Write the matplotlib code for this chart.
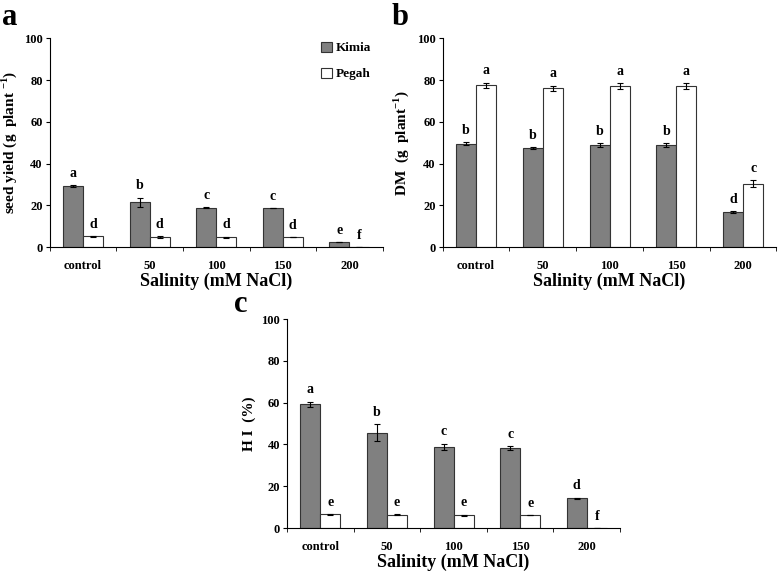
import matplotlib
matplotlib.use("Agg")
import matplotlib.pyplot as plt
import numpy as np

plt.rcParams['font.family'] = ['Liberation Serif']
plt.rcParams['font.weight'] = 'bold'
plt.rcParams['mathtext.fontset'] = 'custom'
plt.rcParams['mathtext.rm'] = 'Liberation Serif:bold'
plt.rcParams['mathtext.bf'] = 'Liberation Serif:bold'

categories = ['control', '50', '100', '150', '200']
cultivars = ['Kimia', 'Pegah']

# panel a: seed yield
seed_kimia = [29.3, 21.5, 19.0, 18.8, 2.5]
seed_kimia_err = [0.3, 2.3, 0.2, 0.1, 0.1]
seed_pegah = [5.2, 4.9, 4.8, 4.8, 0.0]
seed_pegah_err = [0.2, 0.3, 0.3, 0.1, 0.0]
seed_kimia_let = ['a', 'b', 'c', 'c', 'e']
seed_pegah_let = ['d', 'd', 'd', 'd', 'f']

# panel b: dry matter
dm_kimia = [49.5, 47.3, 48.9, 48.9, 16.8]
dm_kimia_err = [0.8, 0.5, 1.0, 1.0, 0.5]
dm_pegah = [77.5, 76.0, 77.2, 77.2, 30.5]
dm_pegah_err = [1.3, 1.3, 1.5, 1.5, 1.5]
dm_kimia_let = ['b', 'b', 'b', 'b', 'd']
dm_pegah_let = ['a', 'a', 'a', 'a', 'c']

# panel c: harvest index
hi_kimia = [59.2, 45.6, 38.9, 38.3, 14.2]
hi_kimia_err = [1.3, 4.2, 1.5, 0.9, 0.3]
hi_pegah = [6.5, 6.4, 6.1, 6.1, 0.0]
hi_pegah_err = [0.2, 0.2, 0.3, 0.1, 0.0]
hi_kimia_let = ['a', 'b', 'c', 'c', 'd']
hi_pegah_let = ['e', 'e', 'e', 'e', 'f']


def panel(ax, k, ke, p, pe, kl, pl, ylabel, legend=False):
    x = np.arange(len(categories))
    w = 0.3
    ax.bar(x - w / 2, k, w, color='#808080', edgecolor='#333333', linewidth=0.8,
           yerr=ke, error_kw=dict(ecolor='black', elinewidth=0.8, capsize=2.5, capthick=0.8),
           label=cultivars[0])
    ax.bar(x + w / 2, p, w, color='white', edgecolor='#333333', linewidth=0.8,
           yerr=pe, error_kw=dict(ecolor='black', elinewidth=0.8, capsize=2.5, capthick=0.8),
           label=cultivars[1])
    for i in range(len(x)):
        ax.text(x[i] - w / 2, k[i] + ke[i] + 2.5, kl[i], ha='center', va='bottom',
                fontsize=10, fontweight='bold')
        ax.text(x[i] + w / 2, p[i] + pe[i] + 2.5, pl[i], ha='center', va='bottom',
                fontsize=10, fontweight='bold')
    ax.set_xlim(-0.5, len(x) - 0.5)
    ax.set_ylim(0, 100)
    ax.set_yticks([0, 20, 40, 60, 80, 100])
    ax.set_xticks(x)
    ax.set_xticklabels(categories)
    ax.set_xticks(np.arange(len(x) + 1) - 0.5, minor=True)
    ax.tick_params(axis='x', which='major', length=0, pad=9, labelsize=9)
    ax.tick_params(axis='x', which='minor', length=3, direction='out')
    ax.tick_params(axis='y', length=3, direction='out', labelsize=9, pad=2)
    for lab in ax.get_xticklabels() + ax.get_yticklabels():
        lab.set_fontweight('bold')
    ax.spines['top'].set_visible(False)
    ax.spines['right'].set_visible(False)
    ax.set_xlabel('Salinity (mM NaCl)', fontsize=13, fontweight='bold', labelpad=1)
    ax.set_ylabel(ylabel, fontsize=11, fontweight='bold', labelpad=4)
    if legend:
        ax.legend(loc='upper right', frameon=False, handlelength=0.8,
                  handleheight=0.8, handletextpad=0.3, labelspacing=1.0,
                  prop={'weight': 'bold', 'size': 9.5}, bbox_to_anchor=(1.0, 1.04))


fig = plt.figure(figsize=(7.78, 5.71), dpi=100)
ax_a = fig.add_axes([0.064, 0.567, 0.428, 0.366])
ax_b = fig.add_axes([0.569, 0.567, 0.429, 0.366])
ax_c = fig.add_axes([0.369, 0.0753, 0.428, 0.366])

panel(ax_a, seed_kimia, seed_kimia_err, seed_pegah, seed_pegah_err,
      seed_kimia_let, seed_pegah_let, r'seed yield (g  plant $^{-1}$)', legend=True)
panel(ax_b, dm_kimia, dm_kimia_err, dm_pegah, dm_pegah_err,
      dm_kimia_let, dm_pegah_let, r'DM  (g  plant$^{-1}$)')
panel(ax_c, hi_kimia, hi_kimia_err, hi_pegah, hi_pegah_err,
      hi_kimia_let, hi_pegah_let, 'H I  (%)')

fig.text(2 / 778, 1 - 25 / 571, 'a', fontsize=22, fontweight='bold', ha='left', va='baseline')
fig.text(392 / 778, 1 - 25 / 571, 'b', fontsize=22, fontweight='bold', ha='left', va='baseline')
fig.text(234 / 778, 1 - 312 / 571, 'c', fontsize=22, fontweight='bold', ha='left', va='baseline')

fig.savefig('out.png', dpi=100)
